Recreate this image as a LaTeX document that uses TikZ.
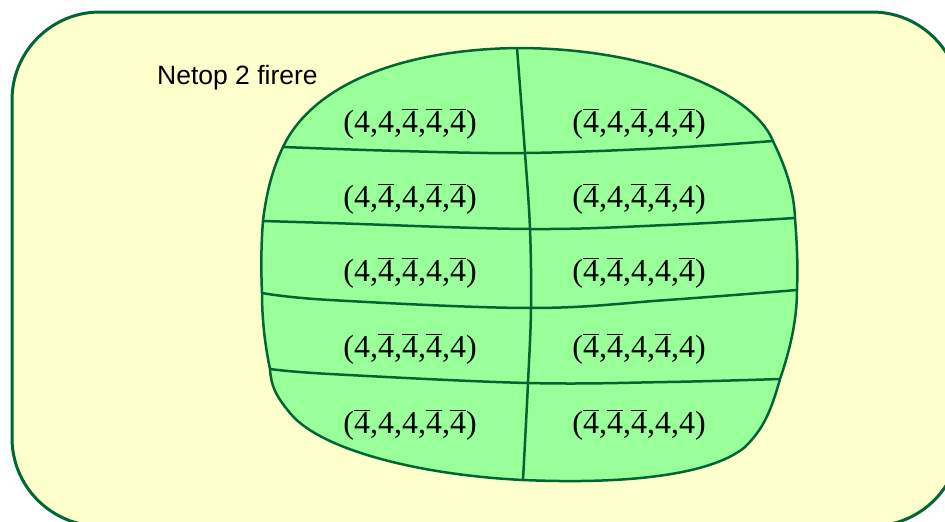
\documentclass[tikz,border=0pt]{standalone}
\usepackage{fontspec}
\setmainfont{Liberation Serif}
\newfontfamily\arialf{Liberation Sans}
\definecolor{edgegreen}{HTML}{006633}
\definecolor{paleyellow}{HTML}{FFFFCC}
\definecolor{lightgreen}{HTML}{99FF99}
\newcommand\ob{\ensuremath{\overline{\mbox{4}}}}
\tikzset{
  outerbox/.style={draw=edgegreen, line width=3pt, fill=paleyellow, rounded corners=88pt},
  blob/.style={draw=edgegreen, line width=2.5pt, fill=lightgreen},
  divider/.style={draw=edgegreen, line width=2.5pt},
  lab/.style={inner sep=0pt, font=\fontsize{32}{38}\selectfont},
  title/.style={inner sep=0pt, anchor=base west, font=\arialf\fontsize{26.5}{30}\selectfont},
}
\begin{document}
\begin{tikzpicture}[x=1pt,y=-1pt]
\useasboundingbox (0,0) rectangle (945,522);
\clip (0,0) rectangle (945,522);
\draw[outerbox] (12,12) rectangle (960,526);

% key points
\coordinate (top) at (517,48);
\coordinate (bot) at (523,480);
\coordinate (l1) at (283,147); \coordinate (m1) at (525,153); \coordinate (r1) at (773,141);
\coordinate (l2) at (263,221); \coordinate (m2) at (530,229); \coordinate (r2) at (795,218);
\coordinate (l3) at (262,293); \coordinate (m3) at (531,308); \coordinate (r3) at (797,290);
\coordinate (l4) at (270,369); \coordinate (m4) at (528,383); \coordinate (r4) at (780,379);

\path[blob] (top) .. controls (645,48) and (752,90) .. (r1)
  .. controls (786,168) and (794,192) .. (r2)
  .. controls (797,245) and (798,265) .. (r3)
  .. controls (797,320) and (790,350) .. (r4)
  .. controls (770,415) and (762,430) .. (745,447)
  .. controls (715,472) and (640,485) .. (bot)
  .. controls (420,475) and (320,450) .. (290,413)
  .. controls (275,395) and (271,385) .. (l4)
  .. controls (265,345) and (262,320) .. (l3)
  .. controls (261,270) and (261,245) .. (l2)
  .. controls (266,195) and (272,170) .. (l1)
  .. controls (310,90) and (390,50) .. (top) -- cycle;

\draw[divider] plot[smooth, tension=0.6] coordinates {(l1) (400,151) (m1) (667,148) (r1)};
\draw[divider] plot[smooth, tension=0.6] coordinates {(l2) (330,223) (m2) (667,225) (r2)};
\draw[divider] plot[smooth, tension=0.6] coordinates {(l3) (330,300) (m3) (667,300) (r3)};
\draw[divider] plot[smooth, tension=0.6] coordinates {(l4) (330,374) (m4) (667,382) (r4)};
\draw[divider] plot[smooth, tension=0.6] coordinates {(top) (m1) (m2) (m3) (m4) (bot)};

\node[title] (ttl) at (157,84) {Netop 2 firere};

\node[lab] (a1) at (410,124) {(4,4,\ob,\ob,\ob)};
\node[lab] (b1) at (639,124) {(\ob,4,\ob,4,\ob)};
\node[lab] (a2) at (410,199) {(4,\ob,4,\ob,\ob)};
\node[lab] (b2) at (639,199) {(\ob,4,\ob,\ob,4)};
\node[lab] (a3) at (410,273) {(4,\ob,\ob,4,\ob)};
\node[lab] (b3) at (639,273) {(\ob,\ob,4,4,\ob)};
\node[lab] (a4) at (410,349) {(4,\ob,\ob,\ob,4)};
\node[lab] (b4) at (639,349) {(\ob,\ob,4,\ob,4)};
\node[lab] (a5) at (410,425) {(\ob,4,4,\ob,\ob)};
\node[lab] (b5) at (639,425) {(\ob,\ob,\ob,4,4)};
\end{tikzpicture}
\end{document}
